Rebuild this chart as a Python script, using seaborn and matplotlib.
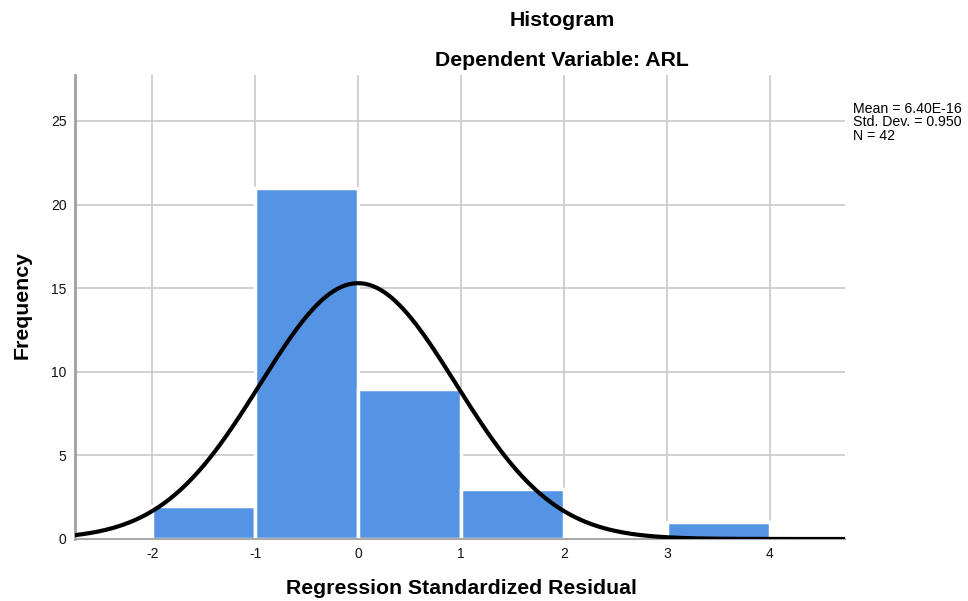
import numpy as np
import pandas as pd
import matplotlib
matplotlib.use("Agg")
import matplotlib.pyplot as plt
import seaborn as sns

# Data
bin_edges = [-2, -1, 0, 1, 2, 3, 4]
bin_counts = [2, 21, 9, 3, 0, 1]
x_ticks = [-2, -1, 0, 1, 2, 3, 4]
y_ticks = [0, 5, 10, 15, 20, 25]
stat_mean = 6.40e-16
stat_sd = 0.950
stat_n = 42
curve_peak = 15.3  # height of the normal curve at its mean

sns.set_theme(style="white")
plt.rcParams['font.family'] = ['Liberation Sans', 'DejaVu Sans']
plt.rcParams['text.color'] = 'black'

fig = plt.figure(figsize=(9.68, 6.01), dpi=100)
ax = fig.add_axes([75/968, 1-539/601, (845-75)/968, (539-75)/601])

centers = [(bin_edges[i] + bin_edges[i+1]) / 2 for i in range(len(bin_counts))]
df = pd.DataFrame({"resid": centers, "count": bin_counts})
sns.histplot(data=df, x="resid", weights="count", bins=bin_edges, ax=ax,
             color="#5594e4", alpha=1.0, edgecolor="white", linewidth=2.5, zorder=2)

xs = np.linspace(-2.75, 4.73, 400)
ys = curve_peak * np.exp(-0.5 * ((xs - stat_mean) / stat_sd) ** 2)
sns.lineplot(x=xs, y=ys, ax=ax, color="black", linewidth=3, zorder=3)

ax.set_xlim(-2.75, 4.73)
ax.set_ylim(0, 27.75)
ax.set_xticks(x_ticks)
ax.set_yticks(y_ticks)
ax.set_xticklabels([str(t) for t in x_ticks], fontsize=10)
ax.set_yticklabels([str(t) for t in y_ticks], fontsize=10)
ax.tick_params(axis='both', length=0, pad=6, colors='#111111')
ax.grid(True, color="#c8c8c8", linewidth=1.2, zorder=0)
ax.set_axisbelow(True)
for s in ["top", "right"]:
    ax.spines[s].set_visible(False)
ax.spines["left"].set_color("#a0a0a0")
ax.spines["left"].set_linewidth(2)
ax.spines["bottom"].set_color("#a8a8a8")
ax.spines["bottom"].set_linewidth(1.5)
ax.set_xlabel("")
ax.set_ylabel("")

fig.text(22/968, 1-305/601, "Frequency", rotation=90, ha="center", va="center",
         fontsize=15.3, fontweight="bold", color="black")
fig.text(461/968, 1-588/601, "Regression Standardized Residual", ha="center", va="center",
         fontsize=15.3, fontweight="bold", color="black")
fig.text(562/968, 1-20/601, "Histogram", ha="center", va="center",
         fontsize=15.3, fontweight="bold", color="black")
fig.text(562/968, 1-60/601, "Dependent Variable: ARL", ha="center", va="center",
         fontsize=15.3, fontweight="bold", color="black")
fig.text(853/968, 1-102/601,
         f"Mean = {stat_mean:.2E}\nStd. Dev. = {stat_sd:.3f}\nN = {stat_n}",
         ha="left", va="top", fontsize=10.2, linespacing=0.95, color="black")

fig.savefig("out.png", dpi=100)
